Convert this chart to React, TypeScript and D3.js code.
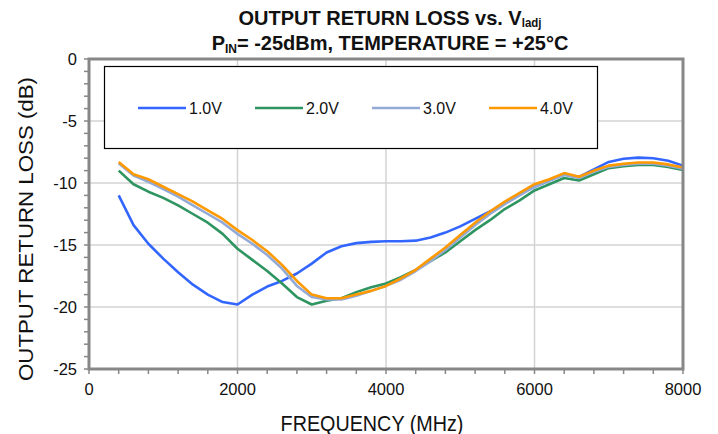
import React from "react";
import * as d3 from "d3";

const freqs = [400, 600, 800, 1000, 1200, 1400, 1600, 1800, 2000, 2200, 2400, 2600, 2800, 3000, 3200, 3400, 3600, 3800, 4000, 4200, 4400, 4600, 4800, 5000, 5200, 5400, 5600, 5800, 6000, 6200, 6400, 6600, 6800, 7000, 7200, 7400, 7600, 7800, 8000];

const v1 = [-11.0, -13.4, -14.9, -16.1, -17.2, -18.2, -19.0, -19.6, -19.8, -19.0, -18.35, -17.9, -17.3, -16.5, -15.6, -15.1, -14.85, -14.75, -14.7, -14.7, -14.65, -14.4, -14.0, -13.5, -12.9, -12.3, -11.6, -10.9, -10.3, -9.8, -9.3, -9.5, -8.9, -8.3, -8.05, -7.95, -8.0, -8.2, -8.6];
const v2 = [-9.0, -10.1, -10.7, -11.2, -11.8, -12.5, -13.2, -14.1, -15.3, -16.2, -17.1, -18.1, -19.2, -19.8, -19.5, -19.3, -18.8, -18.4, -18.1, -17.6, -17.0, -16.3, -15.6, -14.7, -13.8, -13.0, -12.1, -11.4, -10.6, -10.1, -9.6, -9.8, -9.3, -8.8, -8.65, -8.55, -8.55, -8.7, -8.95];
const v3 = [-8.4, -9.4, -9.9, -10.5, -11.1, -11.8, -12.5, -13.2, -14.1, -14.9, -15.8, -16.9, -18.3, -19.2, -19.4, -19.4, -19.1, -18.7, -18.3, -17.8, -17.1, -16.3, -15.4, -14.4, -13.4, -12.5, -11.7, -11.0, -10.3, -9.8, -9.35, -9.6, -9.1, -8.7, -8.55, -8.45, -8.45, -8.6, -8.85];
const v4 = [-8.3, -9.3, -9.7, -10.3, -10.9, -11.5, -12.2, -12.9, -13.8, -14.6, -15.5, -16.6, -17.9, -19.0, -19.3, -19.3, -19.0, -18.7, -18.3, -17.7, -17.0, -16.1, -15.2, -14.2, -13.2, -12.3, -11.5, -10.8, -10.1, -9.7, -9.2, -9.5, -9.0, -8.6, -8.45, -8.35, -8.35, -8.5, -8.75];

const seriesNames = ["1.0V", "2.0V", "3.0V", "4.0V"];
const seriesValues = [v1, v2, v3, v4];
const seriesColors = ["#3366ff", "#2e9460", "#93a9d6", "#ff9900"];

const xTicks = [0, 2000, 4000, 6000, 8000];
const yTicks = [0, -5, -10, -15, -20, -25];

export default function App() {
  const W = 718, H = 434;
  const left = 89, right = 683, top = 59, bottom = 369;
  const x = d3.scaleLinear().domain([0, 8000]).range([left, right]);
  const y = d3.scaleLinear().domain([-25, 0]).range([bottom, top]);
  const line = d3.line<[number, number]>().x(d => x(d[0])).y(d => y(d[1]));
  const font = "'Liberation Sans', Arial, sans-serif";
  const xMinor = d3.range(0, 8001, 400);
  const yMinor = d3.range(-25, 0.001, 1);
  const axisColor = "#878787";
  const legX = [138, 255, 372, 489];
  const textColor = "#111";
  return (
    <svg width={W} height={H} style={{ position: "absolute", left: 0, top: 0, background: "#fff" }} fontFamily={font}>
      {/* grid */}
      {xTicks.slice(1, -1).map(t => (
        <line key={"gx" + t} x1={x(t)} x2={x(t)} y1={top} y2={bottom} stroke="#d3d3d3" strokeWidth={1.5} />
      ))}
      {yTicks.slice(1, -1).map(t => (
        <line key={"gy" + t} x1={left} x2={right} y1={y(t)} y2={y(t)} stroke="#d3d3d3" strokeWidth={1.5} />
      ))}
      {/* minor ticks */}
      {xMinor.map(t => (
        <line key={"mx" + t} x1={x(t)} x2={x(t)} y1={bottom} y2={bottom + 5} stroke={axisColor} strokeWidth={1.5} />
      ))}
      {yMinor.map(t => (
        <line key={"my" + t} x1={left - 5} x2={left} y1={y(t)} y2={y(t)} stroke={axisColor} strokeWidth={1.5} />
      ))}
      {/* series */}
      {seriesValues.map((vals, i) => (
        <path key={"s" + i} d={line(freqs.map((f, j) => [f, vals[j]]) as [number, number][]) || ""} fill="none" stroke={seriesColors[i]} strokeWidth={2.6} strokeLinejoin="round" />
      ))}
      {/* frame */}
      <rect x={left} y={top} width={right - left} height={bottom - top} fill="none" stroke={axisColor} strokeWidth={3} />
      {/* legend */}
      <rect x={104.5} y={66.5} width={493} height={82} fill="#fff" stroke="#000" strokeWidth={1.2} />
      {seriesNames.map((n, i) => (
        <g key={"l" + i}>
          <line x1={legX[i]} x2={legX[i] + 48} y1={108} y2={108} stroke={seriesColors[i]} strokeWidth={2.6} />
          <text transform={`translate(${legX[i] + 51}, 114) scale(1, 1.05)`} fontSize={16} fill={textColor}>{n}</text>
        </g>
      ))}
      {/* tick labels */}
      {xTicks.map(t => (
        <text key={"tx" + t} x={x(t)} y={395} fontSize={16.5} textAnchor="middle" fill={textColor}>{t}</text>
      ))}
      {yTicks.map(t => (
        <text key={"ty" + t} x={77} y={y(t) + 6} fontSize={16.5} textAnchor="end" fill={textColor}>{t}</text>
      ))}
      {/* axis titles */}
      <text transform="translate(372, 431) scale(1, 1.13)" fontSize={19.75} textAnchor="middle" fill={textColor}>FREQUENCY (MHz)</text>
      <text transform="translate(33, 229) rotate(-90)" fontSize={20} textAnchor="middle" textLength={304} lengthAdjust="spacingAndGlyphs" fill={textColor}>OUTPUT RETURN LOSS (dB)</text>
      {/* title */}
      <text transform="translate(390, 25) scale(1, 1.04)" fontSize={20} fontWeight="bold" textAnchor="middle" fill={textColor}>
        OUTPUT RETURN LOSS vs. V<tspan fontSize={11.5} dy={1.5}>ladj</tspan>
      </text>
      <text transform="translate(390, 50) scale(1, 1.04)" fontSize={20} fontWeight="bold" textAnchor="middle" fill={textColor}>
        P<tspan fontSize={12} dy={3}>IN</tspan><tspan dy={-3}>= -25dBm, TEMPERATURE = +25°C</tspan>
      </text>
    </svg>
  );
}
